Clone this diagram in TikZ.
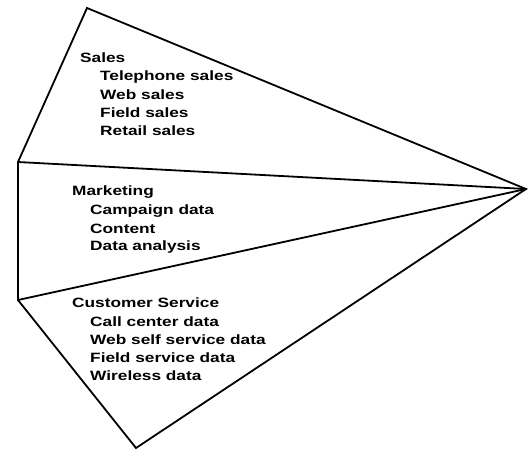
\documentclass[tikz,border=0pt]{standalone}
\usepackage{fontspec}
\setmainfont{Liberation Sans}[FakeStretch=1.28]
\begin{document}
\begin{tikzpicture}[x=1pt,y=-1pt,
  edge/.style={line width=1.8pt,line join=miter,line cap=round},
  head/.style={anchor=west,inner sep=0pt,font=\bfseries\fontsize{13.5}{15}\selectfont},
  item/.style={anchor=west,inner sep=0pt,font=\bfseries\fontsize{13.5}{15}\selectfont}]
\useasboundingbox (0,0) rectangle (528,451);
\coordinate (top) at (87,8);
\coordinate (lt) at (18,162);
\coordinate (lb) at (18,300);
\coordinate (bot) at (136,448);
\coordinate (apex) at (526,189);
\draw[edge] (apex) -- (top) -- (lt) -- (lb) -- (bot) -- cycle;
\draw[edge] (lt) -- (apex);
\draw[edge] (lb) -- (apex);
\node[head] (sales) at (80,58) {Sales};
\node[item] (s1) at (100,77) {Telephone sales};
\node[item] (s2) at (100,95) {Web sales};
\node[item] (s3) at (100,113) {Field sales};
\node[item] (s4) at (100,131) {Retail sales};
\node[head] (mkt) at (72,192) {Marketing};
\node[item] (m1) at (90,211) {Campaign data};
\node[item] (m2) at (90,229) {Content};
\node[item] (m3) at (90,247) {Data analysis};
\node[head] (cs) at (72,303) {Customer Service};
\node[item] (c1) at (90,322) {Call center data};
\node[item] (c2) at (90,340) {Web self service data};
\node[item] (c3) at (90,358) {Field service data};
\node[item] (c4) at (90,376) {Wireless data};
\end{tikzpicture}
\end{document}
